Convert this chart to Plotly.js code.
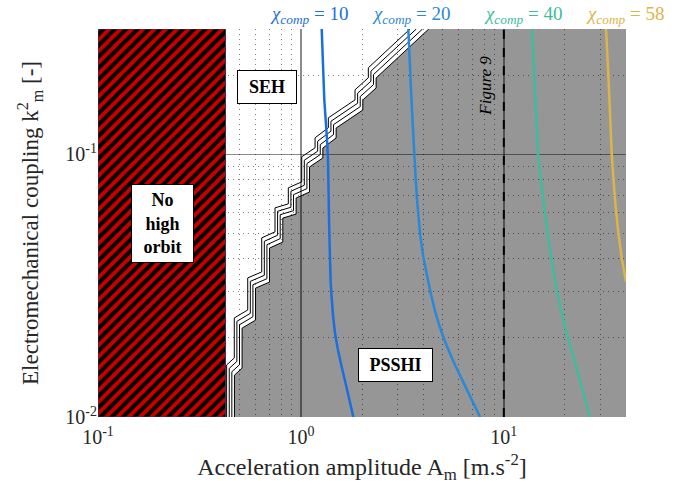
<!DOCTYPE html>
<html><head><meta charset="utf-8">
<script src="https://cdn.plot.ly/plotly-3.0.1.min.js"></script>
<style>html,body{margin:0;padding:0;background:#fff}#chart{width:698px;height:497px}</style>
</head><body><div id="chart"></div>
<script>
// axis extents
const xRange = [0.1, 40];
const yRange = [0.01, 0.3];
const xTickVals = [0.1, 1, 10];
const xTickText = ['10<sup>-1</sup>', '10<sup>0</sup>', '10<sup>1</sup>'];
const yTickVals = [0.01, 0.1];
const yTickText = ['10<sup>-2</sup>', '10<sup>-1</sup>'];
const xMinorVals = [0.2,0.3,0.4,0.5,0.6,0.7,0.8,0.9,2,3,4,5,6,7,8,9,20,30,40];
const yMinorVals = [0.02,0.03,0.04,0.05,0.06,0.07,0.08,0.09,0.2,0.3];

// "No high orbit" limit on acceleration
const noOrbitLimit = 0.425;

// SEH / PSSHI frontier (staircase)
const stairX = [0.4305,0.4305,0.4695,0.4695,0.5468,0.5468,0.641,0.641,0.7452,0.7452,0.8668,0.8668,1.009,1.009,1.174,1.174,1.365,1.365,1.848,1.848,2.149,2.149,3.449];
const stairY = [0.01,0.01578,0.01678,0.02383,0.02556,0.03384,0.03567,0.04807,0.05069,0.06254,0.06477,0.07455,0.07856,0.09784,0.1059,0.1156,0.1262,0.1377,0.1612,0.1761,0.1956,0.2136,0.3];

// chi_comp iso-curves
const chi10X = [1.266,1.304,1.345,1.360,1.376,1.402,1.439,1.472,1.523,1.589,1.668,1.813];
const chi10Y = [0.3,0.1612,0.1136,0.0953,0.0563,0.0324,0.02446,0.02089,0.01799,0.0155,0.01324,0.01];
const chi20X = [3.383,3.488,3.622,3.735,3.864,4.012,4.328,4.670,5.033,5.748,6.586,7.632];
const chi20Y = [0.3,0.1761,0.0996,0.0671,0.05023,0.0407,0.03047,0.02405,0.02017,0.01578,0.01268,0.01];
const chi40X = [13.77,14.25,14.74,15.65,16.89,18.23,20.03,22.43,26.59];
const chi40Y = [0.3,0.1761,0.0996,0.0671,0.04327,0.03047,0.02203,0.01605,0.01];
const chi58X = [31.9,33.0,34.03,35.32,36.67,38.24,40.0];
const chi58Y = [0.3,0.1761,0.0996,0.0671,0.05023,0.03963,0.03276];

const figure9X = 10;

const chiNames = ['10','20','40','58'];
const chiColors = ['#1a6fdf','#2a88d8','#3dbd9c','#ddb448'];
const chiXs = [chi10X, chi20X, chi40X, chi58X];
const chiYs = [chi10Y, chi20Y, chi40Y, chi58Y];

const serif = '"Liberation Serif", serif';
const L = Math.log10;

// offset copies of the frontier (multi-line border)
const DX = 2.6/202.9, DY = 3.4/262.5;
function offsetStair(k){
  const lx = stairX.map(v => L(v) + k*DX);
  const ly = stairY.map(v => L(v) - k*DY);
  const n = lx.length;
  const slope = (ly[n-1]-ly[n-2])/(lx[n-1]-lx[n-2]);
  const top = L(stairY[n-1]);
  lx[n-1] = lx[n-1] + (top - ly[n-1])/slope; ly[n-1] = top;
  return {x: lx.map(v => Math.pow(10,v)), y: ly.map(v => Math.pow(10,v))};
}

const traces = [];
// hatched no-high-orbit area
traces.push({
  x: [xRange[0], noOrbitLimit, noOrbitLimit, xRange[0], xRange[0]],
  y: [yRange[0], yRange[0], yRange[1], yRange[1], yRange[0]],
  mode: 'lines', fill: 'toself', fillcolor: 'black',
  fillpattern: {shape: '/', bgcolor: 'black', fgcolor: '#c80000', size: 8, solidity: 0.5},
  line: {color: '#2b3a55', width: 1}, hoverinfo: 'skip', showlegend: false
});
// PSSHI gray area
const edge = offsetStair(3);
traces.push({
  x: edge.x.concat([xRange[1], xRange[1]]),
  y: edge.y.concat([yRange[1], yRange[0]]),
  mode: 'none', fill: 'toself', fillcolor: 'rgba(0,0,0,0.41)',
  hoverinfo: 'skip', showlegend: false
});
for (let k = 0; k < 4; k++) {
  const s = offsetStair(k);
  traces.push({x: s.x, y: s.y, mode: 'lines', line: {color: 'black', width: 1},
    hoverinfo: 'skip', showlegend: false});
}
chiXs.forEach((xs, i) => {
  traces.push({x: xs, y: chiYs[i], mode: 'lines',
    line: {color: chiColors[i], width: 2.5, shape: 'spline', smoothing: 0.3},
    showlegend: false, name: 'chi ' + chiNames[i]});
});
traces.push({x: [figure9X, figure9X], y: yRange, mode: 'lines',
  line: {color: 'black', width: 2, dash: 'dash'}, showlegend: false});

const chiLabelX = [0.3996, 0.5928, 0.8056, 0.998];
const annotations = chiNames.map((n, i) => ({
  xref: 'paper', yref: 'paper', x: chiLabelX[i], y: 1.036, xanchor: 'center', yanchor: 'middle',
  text: '<i>χ</i><sub><i>comp</i></sub> = ' + n, showarrow: false,
  font: {family: serif, size: 19, color: chiColors[i]}
}));
const boxFont = {family: serif, size: 18, color: 'black'};
function box(x, y, text, w, h){
  return {xref:'paper', yref:'paper', x:x, y:y, xanchor:'center', yanchor:'middle', text:text,
    showarrow:false, bgcolor:'white', bordercolor:'black', borderwidth:1, borderpad:0,
    width:w, height:h, font: boxFont};
}
annotations.push(box(0.321, 0.851, '<b>SEH</b>', 58, 32));
annotations.push(box(0.1222, 0.4986, '<b>No<br>high<br>orbit</b>', 61, 77));
annotations.push(box(0.5625, 0.1333, '<b>PSSHI</b>', 73, 32));
annotations.push({xref:'paper', yref:'paper', x:0.7348, y:0.8538, xanchor:'center', yanchor:'middle',
  text:'<i>Figure 9</i>', showarrow:false, textangle:-90, font:{family: serif, size: 17, color:'black'}});

const gridDot = '1px,4px';
const layout = {
  width: 698, height: 497,
  margin: {l: 98, r: 72, t: 29, b: 80},
  paper_bgcolor: 'white', plot_bgcolor: 'white',
  showlegend: false,
  xaxis: {
    type: 'log', range: [L(xRange[0]), L(xRange[1])],
    tickmode: 'array', tickvals: xTickVals, ticktext: xTickText,
    tickfont: {family: serif, size: 20, color: '#262626'}, ticklabelstandoff: 6,
    showgrid: true, gridcolor: 'rgba(0,0,0,0.46)', gridwidth: 1.5,
    minor: {tickmode: 'array', tickvals: xMinorVals, showgrid: true, griddash: gridDot,
      gridcolor: 'rgba(0,0,0,0.5)', gridwidth: 1},
    showline: false, zeroline: false, ticks: '',
    title: {text: 'Acceleration amplitude A<sub>m</sub> [m.s<sup>-2</sup>]',
      font: {family: serif, size: 24, color: '#262626'}, standoff: 11}
  },
  yaxis: {
    type: 'log', range: [L(yRange[0]), L(yRange[1])],
    tickmode: 'array', tickvals: yTickVals, ticktext: yTickText,
    tickfont: {family: serif, size: 20, color: '#262626'},
    showgrid: true, gridcolor: 'rgba(0,0,0,0.46)', gridwidth: 1.5,
    minor: {tickmode: 'array', tickvals: yMinorVals, showgrid: true, griddash: gridDot,
      gridcolor: 'rgba(0,0,0,0.5)', gridwidth: 1},
    showline: false, zeroline: false, ticks: '',
    title: {text: 'Electromechanical coupling k<sup>2</sup><sub>m</sub> [-]',
      font: {family: serif, size: 23, color: '#262626'}, standoff: 20}
  },
  annotations: annotations
};
Plotly.newPlot('chart', traces, layout, {staticPlot: true, displayModeBar: false});
</script></body></html>
